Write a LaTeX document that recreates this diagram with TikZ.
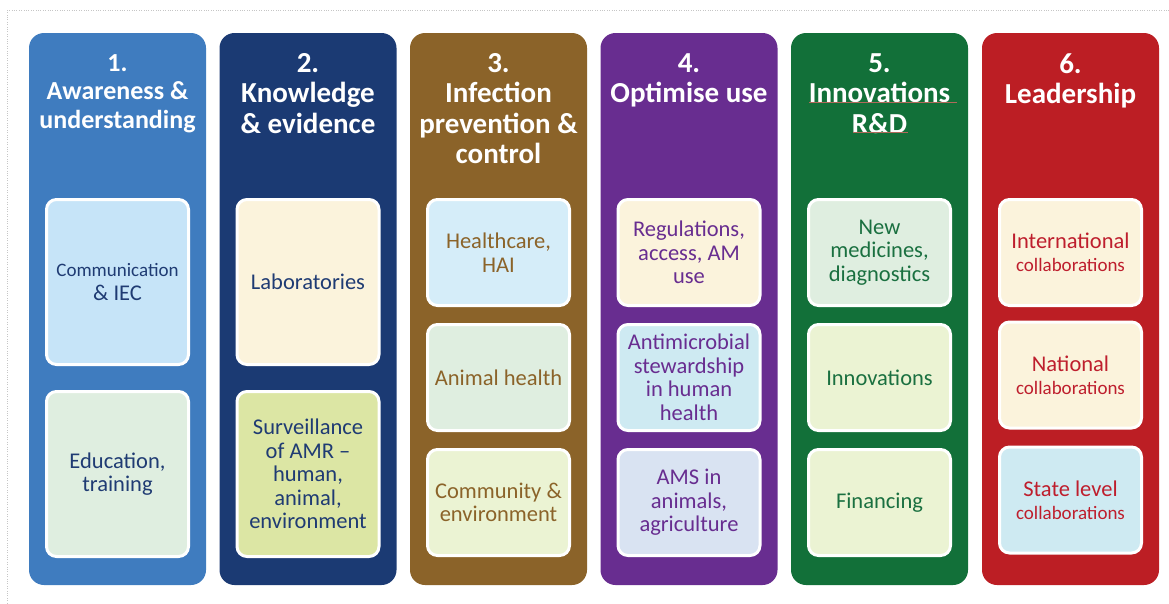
\documentclass[tikz,border=0pt]{standalone}
\usepackage{fontspec}
\setmainfont{Carlito}
\usetikzlibrary{positioning}

\definecolor{blueA}{HTML}{3F7CBF}
\definecolor{navyB}{HTML}{1B3A73}
\definecolor{brownC}{HTML}{8B6329}
\definecolor{purpleD}{HTML}{682D90}
\definecolor{greenE}{HTML}{127039}
\definecolor{redF}{HTML}{BC1E24}
\definecolor{lblue}{HTML}{C6E4F8}
\definecolor{mint}{HTML}{DFEEE0}
\definecolor{cream}{HTML}{FBF3DC}
\definecolor{lime}{HTML}{DCE6A4}
\definecolor{skyb}{HTML}{D5EDF9}
\definecolor{pale}{HTML}{EBF3D3}
\definecolor{ice}{HTML}{CEEAF2}
\definecolor{lav}{HTML}{D9E3F2}
\definecolor{navytxt}{HTML}{1F3B73}
\definecolor{redtxt}{HTML}{BE1E2D}
\definecolor{greentxt}{HTML}{1A7040}
\definecolor{squig}{HTML}{B06A5A}

\tikzset{
  pillar/.style={rounded corners=15pt, minimum width=177pt, minimum height=552pt, inner sep=0pt},
  heading/.style={text=white, font=\bfseries\fontsize{29}{30.5}\selectfont, align=center, anchor=north, inner sep=0pt},
  cell/.style={draw=white, line width=3pt, rounded corners=10pt, minimum width=142pt, align=center,
    font=\fontsize{22.5}{23.5}\selectfont, inner sep=2pt},
  tallcell/.style={cell, minimum height=165pt},
  shortcell/.style={cell, minimum height=106pt},
}
\newcommand{\collab}{{\fontsize{19}{21}\selectfont collaborations}}

\begin{document}
\begin{tikzpicture}[x=1pt,y=-1pt]
 \useasboundingbox (0,0) rectangle (1169,603);
 \draw[gray!45,dotted] (7,603)--(7,10)--(1169,10);

 % pillars
 \node[pillar,fill=blueA]   (col1) at (117.5,309) {};
 \node[pillar,fill=navyB]   (col2) at (308,309) {};
 \node[pillar,fill=brownC]  (col3) at (498.5,309) {};
 \node[pillar,fill=purpleD] (col4) at (689,309) {};
 \node[pillar,fill=greenE]  (col5) at (879.5,309) {};
 \node[pillar,fill=redF]    (col6) at (1070.5,309) {};

 % headings
 \node[heading,font=\bfseries\fontsize{26}{28.5}\selectfont] (head1) at (117.5,54) {1.\\Awareness \&\\understanding};
 \node[heading] (head2) at (308,53) {2.\\Knowledge\\\& evidence};
 \node[heading] (head3) at (498.5,53) {3.\\Infection\\prevention \&\\control};
 \node[heading] (head4) at (689,53) {4.\\Optimise use};
 \node[heading] (head5) at (879.5,53) {5.\\Innovations\\R\&D};
 \node[heading] (head6) at (1070.5,53) {6.\\Leadership};
 \draw[squig,line width=0.6pt] (809,102)--(957,102);
 \draw[squig,line width=0.6pt] (853,132)--(908,132);

 % column 1
 \node[tallcell,fill=lblue,text=navytxt] (comm) at (117.5,282) {{\fontsize{19}{23}\selectfont Communication}\\\& IEC};
 \node[tallcell,fill=mint,text=navytxt]  (educ) at (117.5,474) {Education,\\training};

 % column 2
 \node[tallcell,fill=cream,text=navytxt] (labs) at (308,282) {Laboratories};
 \node[tallcell,fill=lime,text=navytxt]  (surv) at (308,474) {Surveillance\\of AMR --\\human,\\animal,\\environment};

 % column 3
 \node[shortcell,fill=skyb,text=brownC]  (hcare)    at (498.5,252.5) {Healthcare,\\HAI};
 \node[shortcell,fill=mint,text=brownC]  (anhealth) at (498.5,377.5) {Animal health};
 \node[shortcell,fill=pale,text=brownC]  (commenv)  at (498.5,502.5) {Community \&\\environment};

 % column 4
 \node[shortcell,fill=cream,text=purpleD] (regs)  at (689,252.5) {Regulations,\\access, AM\\use};
 \node[shortcell,fill=ice,text=purpleD]   (ams)   at (689,377.5) {Antimicrobial\\stewardship\\in human\\health};
 \node[shortcell,fill=lav,text=purpleD]   (amsag) at (689,502.5) {AMS in\\animals,\\agriculture};

 % column 5
 \node[shortcell,fill=mint,text=greentxt] (newmed)  at (879.5,252.5) {New\\medicines,\\diagnostics};
 \node[shortcell,fill=pale,text=greentxt] (innov)   at (879.5,377.5) {Innovations};
 \node[shortcell,fill=pale,text=greentxt] (finance) at (879.5,502.5) {Financing};

 % column 6
 \node[shortcell,fill=cream,text=redtxt] (intl)  at (1070.5,252.5) {International\\\collab};
 \node[shortcell,fill=cream,text=redtxt] (natl)  at (1070.5,375) {National\\\collab};
 \node[shortcell,fill=ice,text=redtxt]   (state) at (1070.5,500) {State level\\\collab};
\end{tikzpicture}
\end{document}
